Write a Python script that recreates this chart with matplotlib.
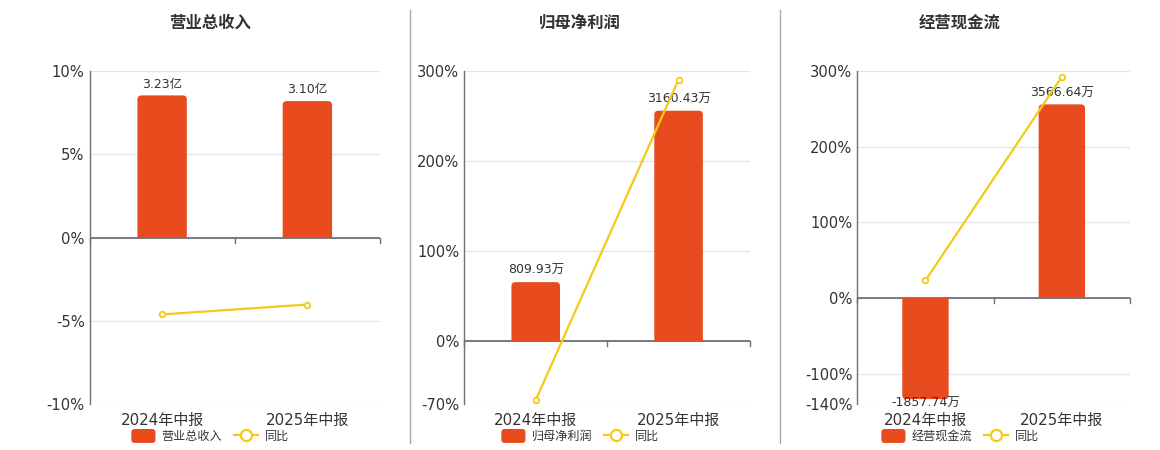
import matplotlib
matplotlib.use("Agg")
import matplotlib.pyplot as plt
import matplotlib.transforms as mtrans
from matplotlib.patches import FancyBboxPatch, Rectangle, Patch
from matplotlib.lines import Line2D
from matplotlib.legend_handler import HandlerPatch
import numpy as np

plt.rcParams['font.family'] = ['DejaVu Sans', 'Noto Sans CJK SC']

categories = ["2024年中报", "2025年中报"]

titles = ["营业总收入", "归母净利润", "经营现金流"]
bar_values = [[3.23, 3.10], [809.93, 3160.43], [-1857.74, 3566.64]]
bar_units = ["亿", "万", "万"]
yoy_values = [[-4.61, -4.02], [-65.2, 290.2], [23.4, 292.0]]
yticks_list = [[-10, -5, 0, 5, 10], [-70, 0, 100, 200, 300], [-140, -100, 0, 100, 200, 300]]

BAR_COLOR = "#e84c1e"
LINE_COLOR = "#f5c918"
TEXT = "#333333"
AXIS = "#6e7079"
GRID = "#e0e6f1"


class RoundHandler(HandlerPatch):
    def create_artists(self, legend, orig_handle, xdescent, ydescent, width, height,
                       fontsize, trans):
        p = FancyBboxPatch((-xdescent, -ydescent), width, height,
                           boxstyle="round,pad=0,rounding_size=2.5",
                           facecolor=orig_handle.get_facecolor(), edgecolor='none',
                           transform=trans)
        return [p]


W, H = 1160, 450
fig = plt.figure(figsize=(W / 100, H / 100), dpi=100)

# axes pixel boxes: left, right, top, bottom
boxes = [(89.5, 380, 70.7, 404.3), (464.3, 750, 70.7, 404.3), (857.3, 1130, 70.7, 404.3)]
centers = [210, 580, 960]

for i in range(3):
    l, r, t, b = boxes[i]
    ax = fig.add_axes([l / W, 1 - b / H, (r - l) / W, (b - t) / H])
    yt = yticks_list[i]
    lo, hi = yt[0], yt[-1]
    ax.set_ylim(lo, hi)
    ax.set_xlim(-0.5, 1.5)
    ax.set_yticks(yt)
    ax.set_yticklabels([f"{v}%" for v in yt], fontsize=10.6, color=TEXT)
    ax.tick_params(axis='y', length=0, pad=3.5)
    ax.grid(axis='y', color=GRID, linewidth=0.9)
    ax.set_axisbelow(True)
    for s in ['top', 'right', 'bottom']:
        ax.spines[s].set_visible(False)
    ax.spines['left'].set_color(AXIS)
    ax.spines['left'].set_linewidth(1.0)
    ax.set_xticks([])

    # zero axis line with boundary ticks
    ax.axhline(0, color=AXIS, linewidth=1.3, zorder=4)
    px_per_y = (b - t) / (hi - lo)
    tick_len = 5 / px_per_y
    for xb in [-0.5, 0.5, 1.5]:
        ax.plot([xb, xb], [0, -tick_len], color=AXIS, linewidth=1.0, zorder=4, clip_on=False)

    # category labels
    off = mtrans.ScaledTranslation(0, -6.5 / 72, fig.dpi_scale_trans)
    for k, c in enumerate(categories):
        ax.text(k, lo, c, transform=ax.transData + off, ha='center', va='top',
                fontsize=10.8, color=TEXT)

    # bar axis
    axb = ax.twinx()
    vals = bar_values[i]
    top = max(vals) / 0.852
    bottom = top * lo / hi
    axb.set_ylim(bottom, top)
    axb.set_xlim(-0.5, 1.5)
    axb.axis('off')
    bw = 0.34
    px_per_x = (r - l) / 2.0
    px_per_by = (b - t) / (top - bottom)
    rad_px = 4.0
    rsize = rad_px / px_per_x
    aspect = (1 / px_per_by) / (1 / px_per_x)
    ext = 8 / px_per_by
    for k, v in enumerate(vals):
        if v >= 0:
            y0, hgt = -ext, v + ext
            clip = Rectangle((-0.5, 0), 2, top, transform=axb.transData)
        else:
            y0, hgt = v, -v + ext
            clip = Rectangle((-0.5, bottom), 2, -bottom, transform=axb.transData)
        p = FancyBboxPatch((k - bw / 2, y0), bw, hgt,
                           boxstyle=f"round,pad=0,rounding_size={rsize}",
                           mutation_aspect=aspect, facecolor=BAR_COLOR,
                           edgecolor='none', zorder=2)
        axb.add_patch(p)
        p.set_clip_path(clip)
        label = f"{v:.2f}{bar_units[i]}"
        if v >= 0:
            axb.annotate(label, (k, v), xytext=(0, 3.5), textcoords='offset points',
                         ha='center', va='bottom', fontsize=9, color=TEXT, zorder=6)
        else:
            axb.annotate(label, (k, v), xytext=(0, -3), textcoords='offset points',
                         ha='center', va='center', fontsize=9, color=TEXT, zorder=6)

    # yoy line on top
    axl = ax.twinx()
    axl.set_ylim(lo, hi)
    axl.set_xlim(-0.5, 1.5)
    axl.axis('off')
    axl.plot([0, 1], yoy_values[i], color=LINE_COLOR, linewidth=1.6,
             marker='o', markersize=4, markerfacecolor='white',
             markeredgecolor=LINE_COLOR, markeredgewidth=1.3, zorder=5, clip_on=False)

    # title
    fig.text(centers[i] / W, 1 - 22.5 / H, titles[i], ha='center', va='center',
             fontsize=11.8, fontweight='bold', color=TEXT)

    # legend
    bar_handle = Patch(facecolor=BAR_COLOR, edgecolor='none')
    handles = [bar_handle,
               Line2D([0], [0], color=LINE_COLOR, linewidth=1.6, marker='o', markersize=8,
                      markerfacecolor='white', markeredgecolor=LINE_COLOR, markeredgewidth=1.6)]
    fig.legend(handles, [titles[i], "同比"], loc='center',
               bbox_to_anchor=(centers[i] / W, 1 - 436 / H), ncol=2, frameon=False,
               fontsize=8.7, labelcolor=TEXT, handlelength=2.0, handleheight=1.4,
               handletextpad=0.5, columnspacing=1.0, borderpad=0,
               handler_map={Patch: RoundHandler()})

# separators
for xs in [410, 780]:
    fig.add_artist(Line2D([xs / W, xs / W], [1 - 10 / H, 1 - 443 / H], color="#aaaaaa",
                          linewidth=1.0))

fig.savefig("out.png", dpi=100, facecolor='white')
